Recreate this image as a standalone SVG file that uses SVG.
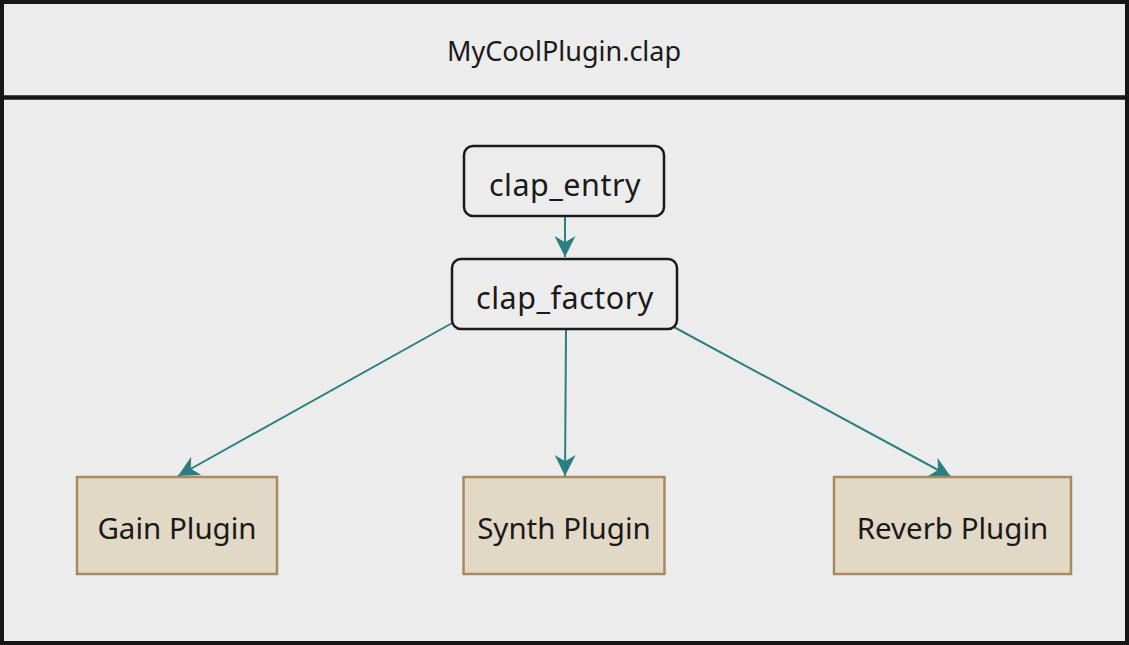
<svg xmlns="http://www.w3.org/2000/svg" width="1129" height="645" viewBox="0 0 1129 645">
<style>
.lbl{font-family:"Noto Sans","Open Sans",sans-serif;fill:#1a1a1a;text-anchor:middle;dominant-baseline:central}
.rnd{fill:#ececec;stroke:#1a1a1a;stroke-width:2.5}
.plug{fill:#e2d8c6;stroke:#a88a5e;stroke-width:2.5}
.edge{stroke:#2a8080;stroke-width:2;fill:none}
</style>
<defs>
<marker id="arr" viewBox="0 0 10 10" refX="10" refY="5" markerWidth="21" markerHeight="21" markerUnits="userSpaceOnUse" orient="auto">
<path d="M0,0 L10,5 L0,10 L3,5 z" fill="#2a8080"/>
</marker>
</defs>
<g id="container">
<rect x="2" y="2" width="1125" height="641" fill="#ececec" stroke="#161616" stroke-width="4"/>
<line x1="2" y1="97.5" x2="1127" y2="97.5" stroke="#161616" stroke-width="4.5"/>
<text class="lbl" x="564" y="50" font-size="27">MyCoolPlugin.clap</text>
</g>
<g id="connectors">
<path class="edge" d="M565,217 L565,257" marker-end="url(#arr)"/>
<path class="edge" d="M454,322 L178,476" marker-end="url(#arr)"/>
<path class="edge" d="M566,330 L565,476" marker-end="url(#arr)"/>
<path class="edge" d="M672,326 L951,477" marker-end="url(#arr)"/>
</g>
<g id="clap_entry">
<rect class="rnd" x="464" y="146" width="200" height="70" rx="9"/>
<text class="lbl" x="565" y="184" font-size="30.5" letter-spacing="0.5">clap_entry</text>
</g>
<g id="clap_factory">
<rect class="rnd" x="452" y="259" width="225" height="70" rx="9"/>
<text class="lbl" x="565" y="297" font-size="30.5" letter-spacing="0.5">clap_factory</text>
</g>
<g id="gain">
<rect class="plug" x="77" y="477" width="200" height="97"/>
<text class="lbl" x="177" y="527" font-size="29.5">Gain Plugin</text>
</g>
<g id="synth">
<rect class="plug" x="463.5" y="477" width="201" height="97"/>
<text class="lbl" x="564" y="527" font-size="29.5">Synth Plugin</text>
</g>
<g id="reverb">
<rect class="plug" x="834" y="477" width="237" height="97"/>
<text class="lbl" x="952.5" y="527" font-size="29.5">Reverb Plugin</text>
</g>
</svg>
